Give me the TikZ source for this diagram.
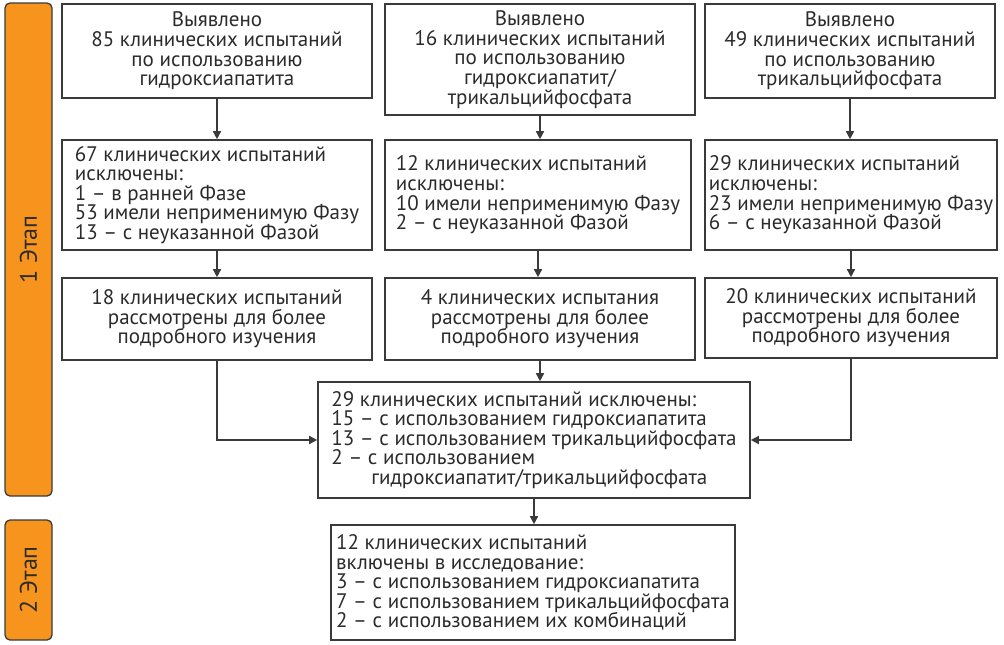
\documentclass[tikz,border=0pt]{standalone}
\usepackage{fontspec}
\setmainfont{PT Sans}
\usetikzlibrary{arrows.meta,positioning}
\definecolor{Stage}{HTML}{F7941D}
\definecolor{Ink}{HTML}{2B2B2B}
\definecolor{Edge}{HTML}{3A3A3A}
\tikzset{
  card/.style={draw=Edge, line width=1.6pt, fill=white, text=Ink, inner sep=4pt,
    font=\fontsize{21}{19.6}\selectfont},
  stagebar/.style={draw=Edge, line width=1.3pt, fill=Stage, rounded corners=5pt,
    text=Ink, rotate=90, font=\fontsize{24}{26}\selectfont},
  flow/.style={draw=Edge, line width=1.5pt, -{Triangle[length=8pt,width=8pt]}},
}

\begin{document}
\begin{tikzpicture}[x=1pt,y=-1pt]
  \useasboundingbox (0,0) rectangle (1004,645);
  % stages
  \node[stagebar, minimum width=493pt, minimum height=47pt] (st1) at (28.5,249.5) {1 Этап};
  \node[stagebar, minimum width=120pt, minimum height=47pt] (st2) at (28.5,580) {2 Этап};
  % row 1: found
  \node[card, align=center, minimum width=310pt, minimum height=94pt] (a1) at (217,51)
    {Выявлено\\85 клинических испытаний\\по использованию\\гидроксиапатита};
  \node[card, align=center, minimum width=310pt, minimum height=111pt] (b1) at (540,59.5)
    {Выявлено\\16 клинических испытаний\\по использованию\\гидроксиапатит/\\трикальцийфосфата};
  \node[card, align=center, minimum width=290pt, minimum height=94pt] (c1) at (850,51)
    {Выявлено\\49 клинических испытаний\\по использованию\\трикальцийфосфата};
  % row 2: excluded
  \node[card, align=left, minimum width=310pt, minimum height=110pt] (a2) at (217,195)
    {67 клинических испытаний\\исключены:\\1 – в ранней Фазе\\53 имели неприменимую Фазу\\13 – с неуказанной Фазой};
  \node[card, align=left, minimum width=306pt, minimum height=110pt] (b2) at (538,195)
    {12 клинических испытаний\\исключены:\\10 имели неприменимую Фазу\\2 – с неуказанной Фазой};
  \node[card, align=left, minimum width=292pt, minimum height=110pt] (c2) at (851,195)
    {29 клинических испытаний\\исключены:\\23 имели неприменимую Фазу\\6 – с неуказанной Фазой};
  % row 3: reviewed
  \node[card, align=center, minimum width=310pt, minimum height=82pt] (a3) at (217,319)
    {18 клинических испытаний\\рассмотрены для более\\подробного изучения};
  \node[card, align=center, minimum width=310pt, minimum height=82pt] (b3) at (540,319)
    {4 клинических испытания\\рассмотрены для более\\подробного изучения};
  \node[card, align=center, minimum width=292pt, minimum height=80pt] (c3) at (851,318)
    {20 клинических испытаний\\рассмотрены для более\\подробного изучения};
  % merge and result
  \node[card, align=left, minimum width=432pt, minimum height=116pt] (mid) at (534,440)
    {29 клинических испытаний исключены:\\15 – с использованием гидроксиапатита\\13 – с использованием трикальцийфосфата\\2 – с использованием\\\hspace*{1.9em}гидроксиапатит/трикальцийфосфата};
  \node[card, align=left, minimum width=404pt, minimum height=115pt] (fin) at (533,582.5)
    {12 клинических испытаний\\включены в исследование:\\3 – с использованием гидроксиапатита\\7 – с использованием трикальцийфосфата\\2 – с использованием их комбинаций};
  % arrows
  \foreach \u/\v in {a1/a2,a2/a3,b1/b2,b2/b3,c1/c2,c2/c3,b3/mid,mid/fin}
    \draw[flow] (\u.south) -- (\u.south |- \v.north);
  \draw[flow] (a3.south) |- (mid.west);
  \draw[flow] (c3.south) |- (mid.east);
\end{tikzpicture}
\end{document}
